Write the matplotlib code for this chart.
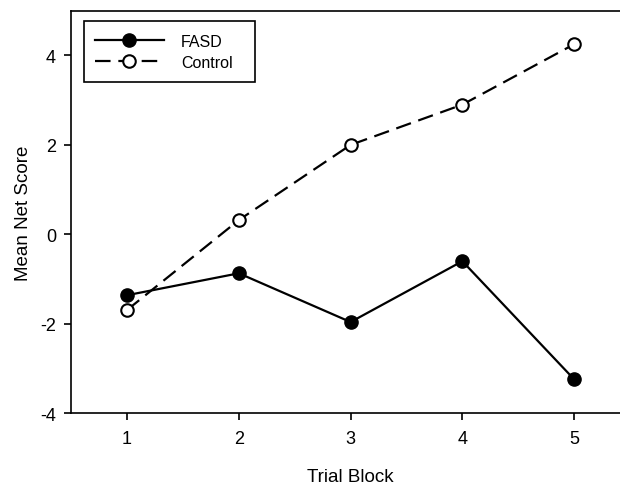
import matplotlib
matplotlib.use("Agg")
import matplotlib.pyplot as plt
from matplotlib.patches import Rectangle

trial_block = [1, 2, 3, 4, 5]
fasd = [-1.36, -0.87, -1.96, -0.60, -3.24]
control = [-1.69, 0.32, 2.00, 2.90, 4.25]
xticks = [1, 2, 3, 4, 5]
yticks = [-4, -2, 0, 2, 4]

plt.rcParams['font.family'] = ['Liberation Sans', 'DejaVu Sans']
plt.rcParams['axes.unicode_minus'] = False

W, H = 620, 485
fig = plt.figure(figsize=(W / 100, H / 100), dpi=100)
left, right, top, bottom = 71.2, 630.0, 11.7, 414.3
ax = fig.add_axes([left / W, 1 - bottom / H, (right - left) / W, (bottom - top) / H])

lw = 1.6
ax.plot(trial_block, fasd, color='black', lw=lw, marker='o', ms=9.5,
        mfc='black', mec='black', label='FASD', zorder=3)
ax.plot(trial_block, control, color='black', lw=lw, ls=(0, (7, 3.5)), marker='o', ms=9,
        mfc='white', mec='black', mew=1.5, label='Control', zorder=4)

ax.set_xlim(0.5, 5.5)
ax.set_ylim(-4, 5)
ax.set_xticks(xticks)
ax.set_yticks(yticks)
ax.tick_params(direction='out', length=5, width=1.2, labelsize=13, colors='black')
ax.tick_params(axis='x', pad=7)
ax.tick_params(axis='y', pad=6)
for s in ['left', 'top', 'bottom']:
    ax.spines[s].set_linewidth(1.2)
ax.spines['right'].set_visible(False)

ax.set_xlabel('Trial Block', fontsize=13.5, labelpad=15)
ax.set_ylabel('Mean Net Score', fontsize=13.5, labelpad=6)

# legend (frame drawn as a separate box)
def fx(px):
    return px / W
def fy(py):
    return 1 - py / H

box_l, box_r, box_t, box_b = 84, 255, 21.7, 82.7
fig.patches.append(Rectangle((fx(box_l), fy(box_b)), fx(box_r) - fx(box_l), fy(box_t) - fy(box_b),
                             transform=fig.transFigure, fill=True, facecolor='white',
                             edgecolor='black', lw=1.2, zorder=5))
leg = fig.legend(*ax.get_legend_handles_labels(), loc='upper left',
                 bbox_to_anchor=(fx(95), fy(35)), frameon=False, fontsize=11.5,
                 handlelength=4.3, borderpad=0, labelspacing=0.38,
                 handletextpad=1.1, borderaxespad=0)
leg.set_zorder(6)

fig.savefig('out.png', dpi=100)
